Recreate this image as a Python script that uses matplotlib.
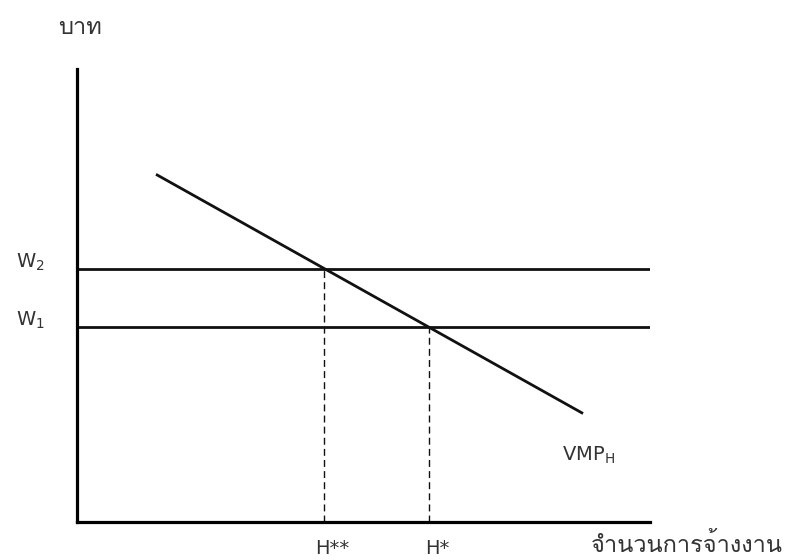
import matplotlib
matplotlib.use("Agg")
import matplotlib.pyplot as plt
from matplotlib import font_manager
from matplotlib.ft2font import FT2Font

# wage levels (W1, W2) and the quantities where VMP meets them
wage_labels = ["W$_1$", "W$_2$"]
wages = [4.30, 5.58]
hire_labels = ["H*", "H**"]
hires = [6.14, 4.31]

# VMP_H demand line (two end points)
vmp_x = [1.40, 8.81]
vmp_y = [7.66, 2.41]

y_label = "บาท"
x_label = "จำนวนการจ้างงาน"


# find an installed font that has Thai glyphs
def thai_font():
    for f in font_manager.fontManager.ttflist:
        try:
            if ord("บ") in FT2Font(f.fname).get_charmap():
                return f.name
        except Exception:
            pass
    return "DejaVu Sans"


thai = thai_font()
plt.rcParams["font.family"] = [thai, "DejaVu Sans"]

fig = plt.figure(figsize=(7.85, 5.6), dpi=100)
ax = fig.add_axes([77 / 785, 38 / 560, 573 / 785, 453 / 560])
ax.set_xlim(0, 10)
ax.set_ylim(0, 10)

for s in ["top", "right"]:
    ax.spines[s].set_visible(False)
ax.spines["left"].set_linewidth(2.3)
ax.spines["bottom"].set_linewidth(2.3)
ax.set_xticks([])
ax.set_yticks([])

# horizontal wage lines
for w in wages:
    ax.plot([0, 10], [w, w], color="#111111", lw=2)

# demand curve
ax.plot(vmp_x, vmp_y, color="#111111", lw=2)

# dashed drop lines
for h, w in zip(hires, wages):
    ax.plot([h, h], [0, w], color="#111111", lw=1, ls=(0, (5, 3)))

# labels
for lab, w in zip(wage_labels, wages):
    ax.text(-0.56, w + 0.15, lab, ha="right", va="center", fontsize=14, color="#333333",
            family=["DejaVu Sans"])
for lab, h in zip(hire_labels, hires):
    ax.text(h + 0.15, -0.58, lab, ha="center", va="center", fontsize=14, color="#333333",
            family=["DejaVu Sans"])
ax.text(vmp_x[1] - 0.35, vmp_y[1] - 0.93, "VMP$_\\mathrm{H}$", ha="left", va="center",
        fontsize=14, color="#333333", family=["DejaVu Sans"])

fig.text(58 / 785, 1 - 28 / 560, y_label, ha="left", va="center", fontsize=17, color="#333333")
fig.text(783 / 785, 1 - 545 / 560, x_label, ha="right", va="center", fontsize=17, color="#333333")

fig.savefig("out.png", dpi=100)
